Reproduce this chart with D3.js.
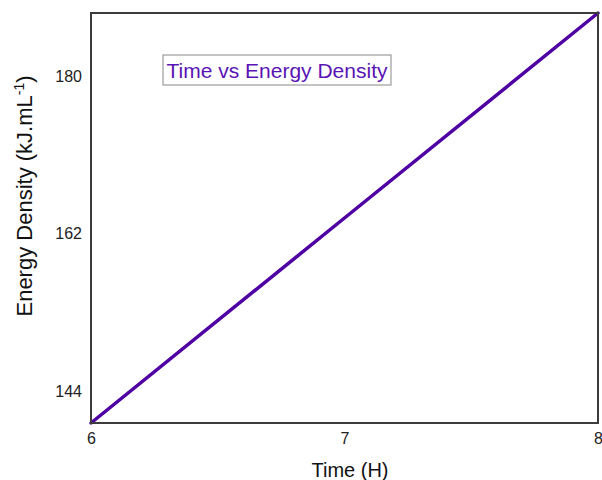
<!DOCTYPE html>
<html>
<head>
<meta charset="utf-8">
<script src="https://d3js.org/d3.v7.min.js"></script>
<style>
  body { margin: 0; background: #fff; }
  text { font-family: "Liberation Sans", Arial, sans-serif; }
</style>
</head>
<body>
<svg id="chart"></svg>
<script>
// data
var timeH = [6, 7, 8];
var energyDensity = [140.4, 163.8, 187.2];
var xTicks = [6, 7, 8];
var yTicks = [144, 162, 180];

var svgWidth = 602, svgHeight = 480;
var margin = { top: 13, right: 4, bottom: 57, left: 91 };
var width = svgWidth - margin.left - margin.right;
var height = svgHeight - margin.top - margin.bottom;

var svg = d3.select("#chart")
    .attr("width", svgWidth)
    .attr("height", svgHeight);

var xScale = d3.scaleLinear().domain([6, 8]).range([0, width]);
var yScale = d3.scaleLinear().domain([140.4, 187.2]).range([height, 0]);

var g = svg.append("g")
    .attr("transform", "translate(" + margin.left + "," + margin.top + ")");

// axes, no tick marks, just labels
var x_axis = d3.axisBottom(xScale).tickValues(xTicks).tickFormat(d3.format("d")).tickSize(0).tickPadding(10);
var y_axis = d3.axisLeft(yScale).tickValues(yTicks).tickFormat(d3.format("d")).tickSize(0).tickPadding(9);

var gx = g.append("g")
    .attr("transform", "translate(0," + height + ")")
    .call(x_axis);
var gy = g.append("g").call(y_axis);

[gx, gy].forEach(function(a) {
    a.select(".domain").remove();
    a.selectAll("text")
        .style("font-family", "'Liberation Sans', Arial, sans-serif")
        .style("font-size", "16px")
        .attr("fill", "#222");
});

// line
var line = d3.line()
    .x(function(d, i) { return xScale(timeH[i]); })
    .y(function(d) { return yScale(d); });

g.append("path")
    .datum(energyDensity)
    .attr("fill", "none")
    .attr("stroke", "#4f00a3")
    .attr("stroke-width", 3.5)
    .attr("stroke-linecap", "round")
    .attr("d", line);

// frame
g.append("rect")
    .attr("x", 0).attr("y", 0)
    .attr("width", width).attr("height", height)
    .attr("fill", "none")
    .attr("stroke", "#3c3c3c")
    .attr("stroke-width", 2);

// title box
var title = g.append("g").attr("transform", "translate(72,42)");
title.append("rect")
    .attr("x", 0).attr("y", 0)
    .attr("width", 228).attr("height", 30)
    .attr("fill", "#fff")
    .attr("stroke", "#888")
    .attr("stroke-width", 1);
title.append("text")
    .attr("x", 114).attr("y", 23)
    .attr("text-anchor", "middle")
    .style("font-size", "21px")
    .attr("fill", "#5a14b4")
    .text("Time vs Energy Density");

// axis labels
svg.append("text")
    .attr("x", 350)
    .attr("y", 477)
    .attr("text-anchor", "middle")
    .style("font-size", "20px")
    .attr("fill", "#111")
    .text("Time (H)");

var ylab = svg.append("text")
    .attr("transform", "translate(32,196) rotate(-90)")
    .attr("text-anchor", "middle")
    .style("font-size", "22px")
    .attr("fill", "#111");
ylab.append("tspan").text("Energy Density (kJ.mL");
ylab.append("tspan").attr("dy", -8).style("font-size", "14px").text("-1");
ylab.append("tspan").attr("dy", 8).text(")");
</script>
</body>
</html>
